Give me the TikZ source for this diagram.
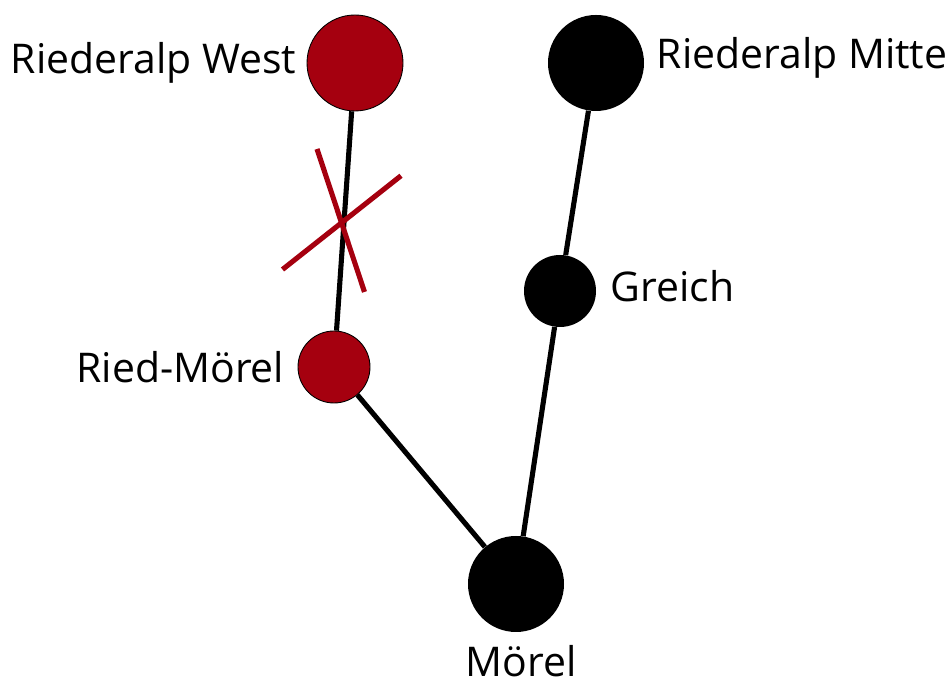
\documentclass[tikz,border=0pt]{standalone}
\usepackage{fontspec}
\setmainfont{Open Sans}
\usetikzlibrary{positioning}
\definecolor{sbbred}{HTML}{A5000F}

\begin{document}
\begin{tikzpicture}
[scale=1,
%
bigstop/.style={shape=circle,fill=black,inner sep=0pt,minimum size=1.92cm},
smallstop/.style={shape=circle,fill=black,inner sep=0pt,minimum size=1.44cm},
closed/.style={fill=sbbred,draw=black,line width=.5pt},
lbl/.style={inner sep=0pt,font=\fontsize{23.3}{27}\selectfont},
%
track/.style={draw,line width=2.9pt,black},
cross/.style={draw,line width=2.9pt,sbbred}]
%
\useasboundingbox (0,0) rectangle (18.9,13.72);
%
% tracks
\coordinate (c1a) at (6.34,10.74);
\coordinate (c1b) at (7.29,7.88);
\coordinate (c2a) at (5.65,8.33);
\coordinate (c2b) at (8.02,10.205);
%%
% stops
\node (west) [bigstop,closed] at (7.10,12.46) {};
\node (mitte) [bigstop] at (11.92,12.46) {};
\node (greich) [smallstop] at (11.20,7.90) {};
\node (ried) [smallstop,closed] at (6.68,6.38) {};
\node (moerel) [bigstop] at (10.32,2.04) {};
%%
\draw[track] (west) -- (ried);
\draw[track] (ried) -- (moerel);
\draw[track] (mitte) -- (greich);
\draw[track] (greich) -- (moerel);
%%
% closed section
\draw[cross] (c1a) -- (c1b);
\draw[cross] (c2a) -- (c2b);
%%
% labels
\node (westlbl) [lbl,left=0.2cm of west] {Riederalp West};
\node (mittelbl) [lbl,right=0.24cm of mitte,yshift=.1cm] {Riederalp Mitte};
\node (greichlbl) [lbl,right=0.28cm of greich,yshift=.1cm] {Greich};
\node (riedlbl) [lbl,left=0.26cm of ried] {Ried-Mörel};
\node (moerellbl) [lbl,anchor=base] at (10.42,0.18) {Mörel};
\end{tikzpicture}
\end{document}
